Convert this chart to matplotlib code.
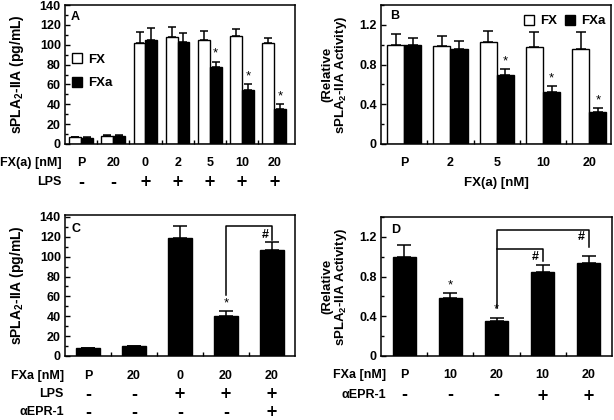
import numpy as np
import matplotlib.pyplot as plt
from matplotlib.transforms import blended_transform_factory

plt.rcParams['font.family'] = 'Liberation Sans'
plt.rcParams['font.weight'] = 'bold'
plt.rcParams['font.size'] = 9
plt.rcParams['mathtext.fontset'] = 'custom'
plt.rcParams['mathtext.rm'] = 'Liberation Sans:bold'
plt.rcParams['mathtext.it'] = 'Liberation Sans:bold'
plt.rcParams['mathtext.bf'] = 'Liberation Sans:bold'

# Panel A: sPLA2-IIA (pg/mL), FX vs FXa
a_dose = ['P', '20', '0', '2', '5', '10', '20']
a_lps = ['-', '-', '+', '+', '+', '+', '+']
a_fx = [6.7, 8.4, 102, 108, 105, 109, 102]
a_fx_err = [0.5, 0.5, 11, 10, 9, 7, 5]
a_fxa = [6.4, 8.4, 105, 103, 78, 54, 35]
a_fxa_err = [0.5, 0.5, 12, 9, 5, 6, 5]
a_fxa_star = [False, False, False, False, True, True, True]

# Panel B: relative activity
b_dose = ['P', '2', '5', '10', '20']
b_fx = [1.0, 0.985, 1.025, 0.975, 0.955]
b_fx_err = [0.105, 0.105, 0.11, 0.155, 0.175]
b_fxa = [1.0, 0.955, 0.69, 0.52, 0.326]
b_fxa_err = [0.07, 0.085, 0.07, 0.065, 0.034]
b_fxa_star = [False, False, True, True, True]

# Panel C
c_dose = ['P', '20', '0', '20', '20']
c_lps = ['-', '-', '+', '+', '+']
c_epr = ['-', '-', '-', '-', '+']
c_vals = [7.7, 9.7, 118.5, 40.3, 107]
c_err = [0.6, 0.6, 12.7, 5.3, 7.5]

# Panel D
d_dose = ['P', '10', '20', '10', '20']
d_epr = ['-', '-', '-', '+', '+']
d_vals = [1.0, 0.58, 0.35, 0.85, 0.933]
d_err = [0.12, 0.055, 0.037, 0.07, 0.071]

W, H = 614, 420
fig = plt.figure(figsize=(W / 100, H / 100), dpi=100)


def px_axes(l, t, r, b):
    return fig.add_axes([l / W, 1 - b / H, (r - l) / W, (b - t) / H])


def style(ax, n, xmax):
    ax.set_xlim(-0.5, xmax)
    for s in ax.spines.values():
        s.set_linewidth(1.1)
    ax.set_xticks(np.arange(n - 1) + 0.5)
    ax.set_xticklabels([])
    ax.tick_params(axis='x', direction='in', length=3, width=1)
    ax.tick_params(axis='y', which='major', direction='in', length=3.5, width=1,
                   pad=3, labelsize=9)
    ax.tick_params(axis='y', which='minor', direction='in', length=2, width=1)


def row(ax, y_px, labels, name, name_x_px, size=9):
    tr = blended_transform_factory(ax.transData, fig.transFigure)
    for i, lab in enumerate(labels):
        if lab in '+-':
            ax.text(i, 1 - y_px / H, lab, transform=tr, ha='center', va='center',
                    fontsize=10.5, fontweight='bold', family='DejaVu Sans',
                    clip_on=False)
        else:
            ax.text(i, 1 - y_px / H, lab, transform=tr, ha='center', va='center',
                    fontsize=size, fontweight='bold', clip_on=False)
    fig.text(name_x_px / W, 1 - y_px / H, name, ha='right', va='center',
             fontsize=size, fontweight='bold')


def up_err(vals):
    return [np.zeros(len(vals)), vals]


ylab = 'sPLA$_2$-IIA (pg/mL)'
ylab2 = '(Relative\nsPLA$_2$-IIA Activity)'
ekw = dict(elinewidth=1.1, capthick=1.1)
leg_kw = dict(frameon=False, handlelength=0.78, handleheight=0.78,
              handletextpad=0.45, borderaxespad=0, borderpad=0, fontsize=9.5)

# ---- A ----
ax = px_axes(65, 5, 295, 144)
x = np.arange(len(a_dose))
bw = 0.366
ax.bar(x - bw / 2, a_fx, bw, color='white', edgecolor='black', linewidth=1,
       yerr=up_err(a_fx_err), capsize=2.8, error_kw=ekw, label='FX')
ax.bar(x + bw / 2, a_fxa, bw, color='black', edgecolor='black', linewidth=1,
       yerr=up_err(a_fxa_err), capsize=2.8, error_kw=ekw, label='FXa')
for i, s in enumerate(a_fxa_star):
    if s:
        ax.text(i + bw / 2, a_fxa[i] + a_fxa_err[i] + 2, '*', ha='center',
                va='bottom', fontsize=9.5, fontweight='normal')
ax.set_ylim(0, 140)
ax.set_yticks(np.arange(0, 141, 20))
ax.set_yticks(np.arange(0, 141, 10), minor=True)
style(ax, len(a_dose), 6.65)
ax.set_ylabel(ylab, fontsize=10, fontweight='bold')
ax.yaxis.set_label_coords(-0.17, 0.5)
ax.text(0.026, 0.915, 'A', transform=ax.transAxes, ha='left', va='center', fontsize=9)
ax.legend(loc='upper left', bbox_to_anchor=(0.03, 0.655), labelspacing=0.85, **leg_kw)
row(ax, 163, a_dose, 'FX(a) [nM]', 62)
row(ax, 182, a_lps, 'LPS', 62)

# ---- B ----
ax = px_axes(381, 5, 611, 144)
x = np.arange(len(b_dose))
bw = 0.37
ax.bar(x - bw / 2, b_fx, bw, color='white', edgecolor='black', linewidth=1,
       yerr=up_err(b_fx_err), capsize=3.5, error_kw=ekw, label='FX')
ax.bar(x + bw / 2, b_fxa, bw, color='black', edgecolor='black', linewidth=1,
       yerr=up_err(b_fxa_err), capsize=3.5, error_kw=ekw, label='FXa')
for i, s in enumerate(b_fxa_star):
    if s:
        ax.text(i + bw / 2, b_fxa[i] + b_fxa_err[i] + 0.015, '*', ha='center',
                va='bottom', fontsize=9.5, fontweight='normal')
ax.set_ylim(0, 1.4)
ax.set_yticks([0, 0.4, 0.8, 1.2])
ax.set_yticklabels(['0', '0.4', '0.8', '1.2'])
ax.set_yticks(np.arange(0, 1.41, 0.2), minor=True)
style(ax, len(b_dose), 4.47)
ax.set_ylabel(ylab2, fontsize=9.5, fontweight='bold', linespacing=1.0)
ax.yaxis.set_label_coords(-0.138, 0.5)
ax.text(0.039, 0.92, 'B', transform=ax.transAxes, ha='left', va='center', fontsize=9)
ax.legend(loc='upper right', bbox_to_anchor=(0.975, 0.93), ncol=2,
          columnspacing=0.55, **leg_kw)
tr = blended_transform_factory(ax.transData, fig.transFigure)
for i, lab in enumerate(b_dose):
    ax.text(i, 1 - 163 / H, lab, transform=tr, ha='center', va='center', fontsize=9)
ax.text(0.5, 1 - 183 / H, 'FX(a) [nM]',
        transform=blended_transform_factory(ax.transAxes, fig.transFigure),
        ha='center', va='center', fontsize=9.5)

# ---- C ----
ax = px_axes(65, 215, 295, 356)
x = np.arange(len(c_dose))
ax.bar(x, c_vals, 0.51, color='black', edgecolor='black', linewidth=1,
       yerr=up_err(c_err), capsize=5, error_kw=ekw)
ax.text(3, c_vals[3] + c_err[3] + 1, '*', ha='center', va='bottom', fontsize=9.5,
        fontweight='normal')
ax.plot([3, 3, 4, 4], [61, 131, 131, 117], color='black', lw=1.1)
ax.text(3.85, 122, '#', ha='center', va='center', fontsize=9)
ax.set_ylim(0, 142)
ax.set_yticks(np.arange(0, 141, 20))
ax.set_yticks(np.arange(0, 141, 10), minor=True)
style(ax, len(c_dose), 4.5)
ax.set_ylabel(ylab, fontsize=10, fontweight='bold')
ax.yaxis.set_label_coords(-0.17, 0.5)
ax.text(0.03, 0.9, 'C', transform=ax.transAxes, ha='left', va='center', fontsize=9)
row(ax, 376, c_dose, 'FXa [nM]', 64)
row(ax, 394, c_lps, 'LPS', 64)
row(ax, 412, c_epr, 'αEPR-1', 64)

# ---- D ----
ax = px_axes(381, 217, 612, 356)
x = np.arange(len(d_dose))
ax.bar(x, d_vals, 0.5, color='black', edgecolor='black', linewidth=1,
       yerr=up_err(d_err), capsize=5, error_kw=ekw)
for i in (1, 2):
    ax.text(i, d_vals[i] + d_err[i] + 0.02, '*', ha='center', va='bottom',
            fontsize=9.5, fontweight='normal')
ax.plot([2, 2, 4, 4], [0.485, 1.27, 1.27, 1.095], color='black', lw=1.1)
ax.plot([2, 3, 3], [1.075, 1.075, 0.956], color='black', lw=1.1)
ax.text(2.84, 1.0, '#', ha='center', va='center', fontsize=9)
ax.text(3.84, 1.2, '#', ha='center', va='center', fontsize=9)
ax.set_ylim(0, 1.4)
ax.set_yticks([0, 0.4, 0.8, 1.2])
ax.set_yticklabels(['0', '0.4', '0.8', '1.2'])
ax.set_yticks(np.arange(0, 1.41, 0.2), minor=True)
style(ax, len(d_dose), 4.5)
ax.set_ylabel(ylab2, fontsize=9.5, fontweight='bold', linespacing=1.0)
ax.yaxis.set_label_coords(-0.138, 0.5)
ax.text(0.042, 0.905, 'D', transform=ax.transAxes, ha='left', va='center', fontsize=9)
row(ax, 375, d_dose, 'FXa [nM]', 386)
row(ax, 395, d_epr, 'αEPR-1', 386)

fig.savefig('out.png', dpi=100)
